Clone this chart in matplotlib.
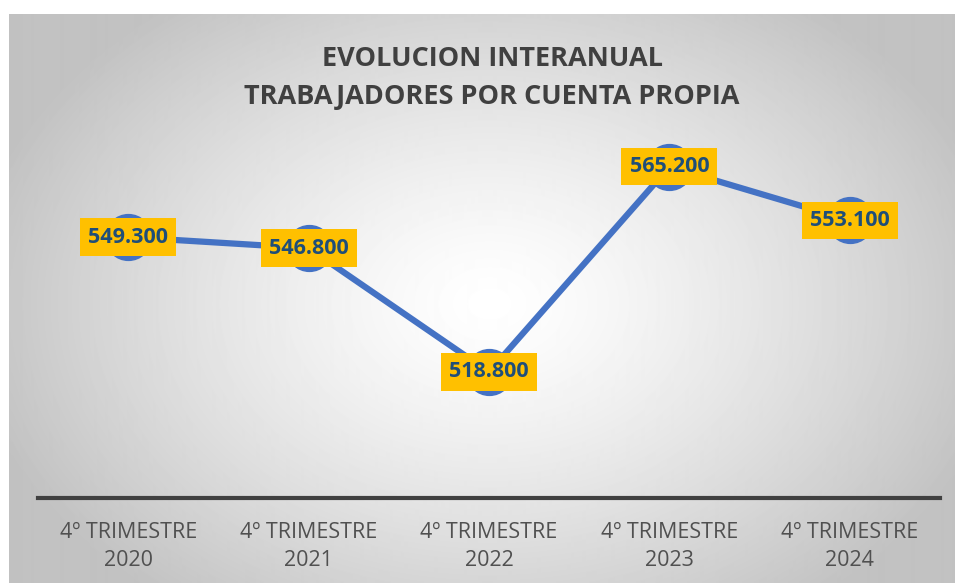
import numpy as np
import matplotlib.pyplot as plt

categories = ["4º TRIMESTRE\n2020", "4º TRIMESTRE\n2021", "4º TRIMESTRE\n2022",
              "4º TRIMESTRE\n2023", "4º TRIMESTRE\n2024"]
values = [549.3, 546.8, 518.8, 565.2, 553.1]
labels = ["549.300", "546.800", "518.800", "565.200", "553.100"]

plt.rcParams['font.family'] = ['Open Sans', 'DejaVu Sans']

W, H = 955, 583
fig = plt.figure(figsize=(W / 100, H / 100), dpi=100)

# background with radial gradient (chart area)
bg = fig.add_axes([9 / W, 0, (W - 9) / W, (H - 14) / H])
yy, xx = np.mgrid[0:569, 0:946]
cx, cy = 480, 290
d = np.sqrt(((xx - cx) / 540.0) ** 2 + ((yy - cy) / 390.0) ** 2)
shade = np.clip(1.0 - 0.25 * d ** 1.3, 0.76, 1.0)
bg.imshow(shade, cmap='gray', vmin=0, vmax=1, aspect='auto', interpolation='bilinear')
bg.set_axis_off()

# plot area
left, right = 38, 940
bottom_px, top_px = 498, 150
ax = fig.add_axes([left / W, 1 - bottom_px / H, (right - left) / W, (bottom_px - top_px) / H])
ax.patch.set_alpha(0)
x = np.arange(len(values))
ax.plot(x, values, color='#4472C4', lw=4.5, marker='o', markersize=33,
        markerfacecolor='#4472C4', markeredgecolor='#4472C4', zorder=3, clip_on=False)
for xi, v, lab in zip(x, values, labels):
    ax.text(xi, v, lab, ha='center', va='center', fontsize=15.5, fontweight='bold',
            color='#1F4E79', zorder=4,
            bbox=dict(boxstyle='square,pad=0.38', facecolor='#FFC000', edgecolor='none'))
ax.set_xlim(-0.5, 4.5)
ax.set_ylim(490.3, 569.0)
ax.set_yticks([])
for s in ['left', 'right', 'top']:
    ax.spines[s].set_visible(False)
ax.spines['bottom'].set_color('#404040')
ax.spines['bottom'].set_linewidth(3)
ax.set_xticks(x)
ax.set_xticklabels(categories, fontsize=15.5, color='#505050', linespacing=1.45)
ax.tick_params(axis='x', length=0, pad=17)

fig.text(492 / W, 1 - 78 / H, "EVOLUCION INTERANUAL\nTRABAJADORES POR CUENTA PROPIA",
         ha='center', va='center', fontsize=19.5, fontweight='bold', color='#404040',
         linespacing=1.6)

fig.savefig('out.png', dpi=100)
